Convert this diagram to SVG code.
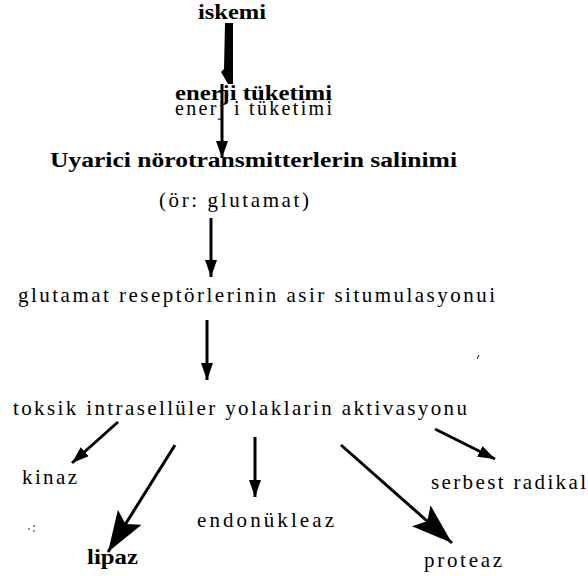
<svg xmlns="http://www.w3.org/2000/svg" width="588" height="576" viewBox="0 0 588 576">
<defs>
<style>
text{font-family:"Liberation Serif","Times New Roman",serif;fill:#000}
.r{font-size:21px}
.b{font-size:20px;font-weight:bold}
.c{stroke:#000;stroke-width:3;fill:none}
</style>
<marker id="h" markerUnits="userSpaceOnUse" markerWidth="18" markerHeight="12" refX="17" refY="6" orient="auto">
<path d="M0,0 L17,6 L0,12 Z" fill="#000"/>
</marker>
<marker id="hb" markerUnits="userSpaceOnUse" markerWidth="42" markerHeight="28" refX="41" refY="14" orient="auto">
<path d="M0,0 L41,14 L0,28 L8,14 Z" fill="#000"/>
</marker>
</defs>
<rect width="588" height="576" fill="#fff"/>
<g id="iskemi"><text class="b" x="198" y="19" textLength="68" lengthAdjust="spacingAndGlyphs">iskemi</text></g>
<g id="enerji">
<text class="b" x="175" y="100" textLength="157" lengthAdjust="spacingAndGlyphs">enerji tüketimi</text>
<text class="r" x="175" y="115" textLength="157" lengthAdjust="spacing" style="font-size:20px">enerj i tüketimi</text>
</g>
<g id="uyarici"><text class="b" x="50" y="167" textLength="407" lengthAdjust="spacingAndGlyphs">Uyarici nörotransmitterlerin salinimi</text></g>
<g id="glutamat"><text class="r" x="159" y="207" textLength="150" lengthAdjust="spacing">(ör: glutamat)</text></g>
<g id="reseptor"><text class="r" x="18" y="302" textLength="477" lengthAdjust="spacing">glutamat reseptörlerinin asir situmulasyonui</text></g>
<g id="toksik"><text class="r" x="13" y="415" textLength="454" lengthAdjust="spacing">toksik intrasellüler yolaklarin aktivasyonu</text></g>
<g id="kinaz"><text class="r" x="22" y="484" textLength="55" lengthAdjust="spacing">kinaz</text></g>
<g id="serbest"><text class="r" x="431" y="489" textLength="155" lengthAdjust="spacing">serbest radikal</text></g>
<g id="endonukleaz"><text class="r" x="197" y="527" textLength="137" lengthAdjust="spacing">endonükleaz</text></g>
<g id="lipaz"><text class="b" x="87" y="564" textLength="51" lengthAdjust="spacingAndGlyphs">lipaz</text></g>
<g id="proteaz"><text class="r" x="424" y="567" textLength="78" lengthAdjust="spacing">proteaz</text></g>
<g id="connectors">
<path d="M225,23 H233 V84 H228 L221,72 L224,69 Z" fill="#000"/>
<line class="c" x1="222" y1="84" x2="222" y2="158" stroke-width="2" marker-end="url(#h)"/>
<line class="c" x1="211" y1="218" x2="211" y2="277" marker-end="url(#h)"/>
<line class="c" x1="207" y1="320" x2="207" y2="380" marker-end="url(#h)"/>
<line class="c" x1="118" y1="422" x2="72" y2="463" marker-end="url(#h)"/>
<line class="c" x1="255" y1="437" x2="255" y2="497" marker-end="url(#h)"/>
<line class="c" x1="435" y1="429" x2="495" y2="459" marker-end="url(#h)"/>
<line class="c" x1="175" y1="445" x2="108" y2="552" marker-end="url(#hb)"/>
<line class="c" x1="341" y1="445" x2="452" y2="543" marker-end="url(#hb)"/>
</g>
<g id="specks" fill="#000">
<circle cx="29" cy="529" r="0.8"/><circle cx="34" cy="526" r="0.8"/><circle cx="34" cy="531" r="0.8"/>
<path d="M477,359 L479,355" stroke="#000" stroke-width="1"/>
</g>
</svg>
